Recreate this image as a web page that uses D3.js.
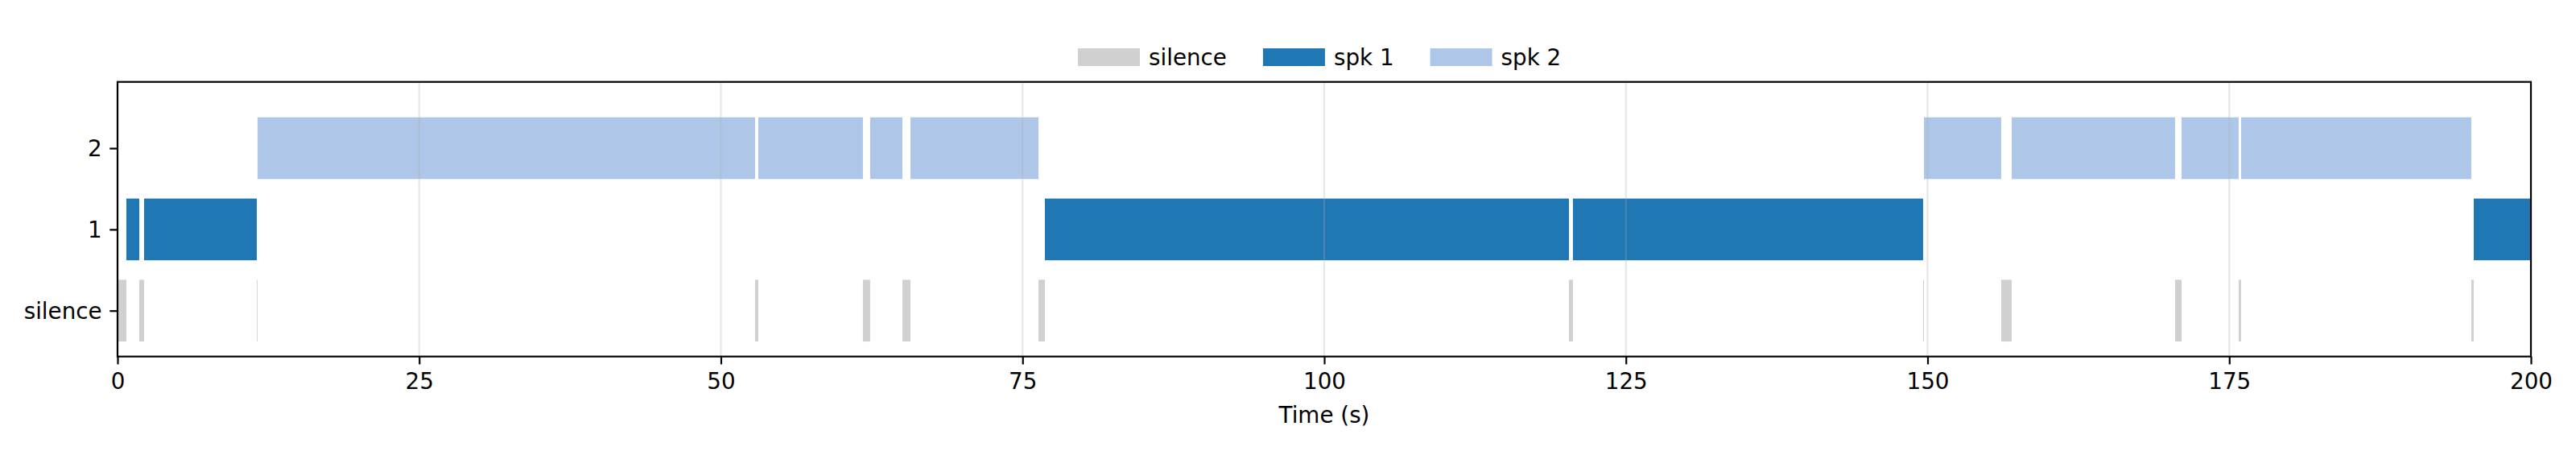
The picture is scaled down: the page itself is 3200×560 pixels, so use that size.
<!DOCTYPE html>
<html>
<head>
<meta charset="utf-8">
<script src="https://cdn.jsdelivr.net/npm/d3@7"></script>
<style>
  html, body { margin: 0; padding: 0; background: #fff; }
  svg { display: block; }
  text { font-family: "DejaVu Sans", sans-serif; fill: #000; }
</style>
</head>
<body>
<svg id="chart" width="3200" height="560"></svg>
<script>
// ---- data ----
const categories = ["silence", "1", "2"];
const seriesNames = ["silence", "spk 1", "spk 2"];
const seriesColors = ["#d0d0d0", "#1f77b4", "#aec7e8"];
const silenceSegments = [[0, 0.73], [1.8, 2.2], [11.54, 11.6], [52.83, 53.1], [61.77, 62.37], [65.04, 65.71], [76.32, 76.85], [120.28, 120.61], [149.63, 149.7], [156.1, 156.97], [170.51, 171.05], [175.78, 175.98], [195.06, 195.26]];
const spk1Segments = [[0.73, 1.8], [2.2, 11.54], [76.85, 120.28], [120.61, 149.63], [195.26, 200]];
const spk2Segments = [[11.6, 52.83], [53.1, 61.77], [62.37, 65.04], [65.71, 76.32], [149.7, 156.1], [156.97, 170.51], [171.05, 175.78], [175.98, 195.06]];
const xTicks = [0, 25, 50, 75, 100, 125, 150, 175, 200];
const xLabel = "Time (s)";

(function () {
// ---- layout ----
const FS = 27.78;
const mLeft = 146, mRight = 3144, mTop = 101.7, mBottom = 442.7;
const svg = d3.select("#chart");

const x = d3.scaleLinear().domain([0, 200]).range([mLeft, mRight]);
const y = d3.scaleLinear().domain([-0.565, 2.816]).range([mBottom, mTop]);
const barH = 0.76;

const series = [silenceSegments, spk1Segments, spk2Segments];

// bars
series.forEach((segs, i) => {
  svg.append("g").selectAll("rect").data(segs).join("rect")
    .attr("x", d => x(d[0]))
    .attr("width", d => Math.max(0.8, x(d[1]) - x(d[0])))
    .attr("y", y(i + barH / 2))
    .attr("height", y(i - barH / 2) - y(i + barH / 2))
    .attr("fill", seriesColors[i]);
});

// grid (on top, translucent)
svg.append("g").selectAll("line").data(xTicks).join("line")
  .attr("x1", d => x(d)).attr("x2", d => x(d))
  .attr("y1", mTop).attr("y2", mBottom)
  .attr("stroke", "#b0b0b0").attr("stroke-opacity", 0.3).attr("stroke-width", 2.2);

// axes
const xAxis = d3.axisBottom(x).tickValues(xTicks).tickSize(9.7).tickPadding(9.7).tickFormat(d3.format("d"));
const gx = svg.append("g").attr("transform", `translate(0,${mBottom})`).call(xAxis);
gx.select(".domain").remove();
gx.selectAll(".tick line").attr("stroke", "#000").attr("stroke-width", 2.2);
gx.selectAll(".tick text").attr("font-size", FS).attr("font-family", "DejaVu Sans").attr("fill", "#000").attr("dy", "0.76em");

const yAxis = d3.axisLeft(y).tickValues([0, 1, 2]).tickSize(9.7).tickPadding(9.7).tickFormat(d => categories[d]);
const gy = svg.append("g").attr("transform", `translate(${mLeft},0)`).call(yAxis);
gy.select(".domain").remove();
gy.selectAll(".tick line").attr("stroke", "#000").attr("stroke-width", 2.2);
gy.selectAll(".tick text").attr("font-size", FS).attr("font-family", "DejaVu Sans").attr("fill", "#000").attr("dy", "0.35em");

// frame
svg.append("rect").attr("x", mLeft).attr("y", mTop).attr("width", mRight - mLeft).attr("height", mBottom - mTop)
  .attr("fill", "none").attr("stroke", "#000").attr("stroke-width", 2.2);

// x label
svg.append("text").attr("x", (mLeft + mRight) / 2).attr("y", 525).attr("text-anchor", "middle")
  .attr("font-size", FS).text(xLabel);

// legend
const lg = svg.append("g");
let lx = 1339;
const swW = 77, swH = 22, txtGap = 11, colGap = 45;
seriesNames.forEach((name, i) => {
  lg.append("rect").attr("x", lx).attr("y", 60).attr("width", swW).attr("height", swH).attr("fill", seriesColors[i]);
  const t = lg.append("text").attr("x", lx + swW + txtGap).attr("y", 81).attr("font-size", FS).text(name);
  const w = t.node().getComputedTextLength();
  lx = lx + swW + txtGap + w + colGap;
});
})();
</script>
</body>
</html>
